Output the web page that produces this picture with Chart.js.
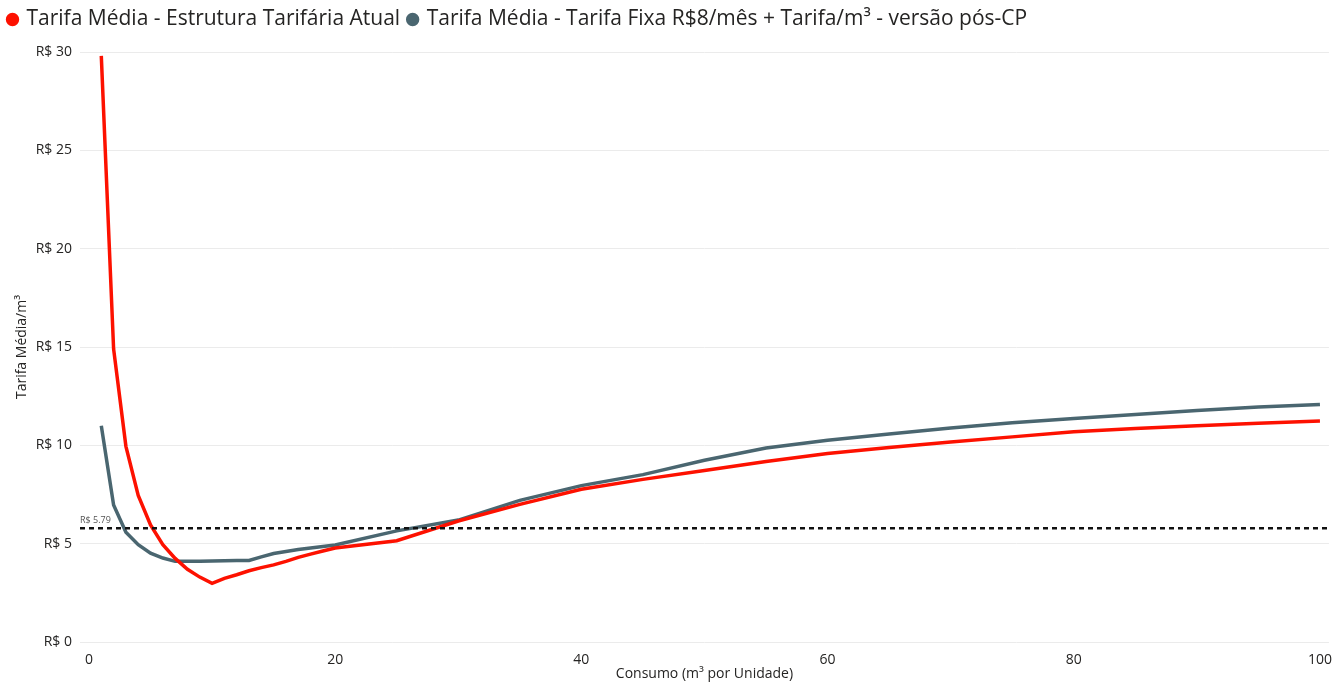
<!DOCTYPE html>
<html>
<head>
<meta charset="utf-8">
<script src="https://cdn.jsdelivr.net/npm/chart.js@4"></script>
<style>
  html, body { margin: 0; padding: 0; background: #fff; }
  #box { width: 1342px; height: 682px; }
</style>
</head>
<body>
<div id="box"><canvas id="grafico"></canvas></div>
<script>
// consumo (m³) e tarifa média
const consumo = [1, 2, 3, 4, 5, 6, 7, 8, 9, 10, 11, 12, 13, 14, 15, 16, 17, 18, 19, 20,
  25, 30, 35, 40, 45, 50, 55, 60, 65, 70, 75, 80, 85, 90, 95, 100];
const tarifaAtual = [29.8, 14.9, 9.95, 7.45, 5.95, 4.95, 4.25, 3.7, 3.3, 2.98, 3.24, 3.42, 3.62, 3.78, 3.92, 4.1, 4.3, 4.47, 4.63, 4.78,
  5.15, 6.15, 7.0, 7.77, 8.27, 8.72, 9.18, 9.58, 9.89, 10.17, 10.43, 10.69, 10.86, 11.0, 11.12, 11.24];
const tarifaFixa = [11.0, 6.97, 5.58, 4.95, 4.52, 4.27, 4.1, 4.1, 4.11, 4.12, 4.13, 4.14, 4.15, 4.33, 4.5, 4.6, 4.7, 4.78, 4.86, 4.93,
  5.65, 6.2, 7.2, 7.95, 8.51, 9.24, 9.86, 10.26, 10.58, 10.88, 11.15, 11.37, 11.57, 11.77, 11.95, 12.08];
const xTicks = [0, 20, 40, 60, 80, 100];
const yTicks = [0, 5, 10, 15, 20, 25, 30];
const referencia = 5.79;

const nomes = [
  'Tarifa Média - Estrutura Tarifária Atual',
  'Tarifa Média - Tarifa Fixa R$8/mês + Tarifa/m³ - versão pós-CP'
];
const cores = ['#FD1100', '#4A6670'];

const texto = '#252423';
const fonte = '"Open Sans", "Noto Sans", sans-serif';

const pontos = (ys) => consumo.map((x, i) => ({ x: x, y: ys[i] }));

// linha tracejada de referência (R$ 5.79)
const linhaReferencia = {
  id: 'linhaReferencia',
  afterDatasetsDraw(chart) {
    const { ctx, chartArea } = chart;
    const y = chart.scales.y.getPixelForValue(referencia);
    ctx.save();
    ctx.strokeStyle = '#111';
    ctx.lineWidth = 2.5;
    ctx.setLineDash([5, 4]);
    ctx.beginPath();
    ctx.moveTo(chartArea.left, y);
    ctx.lineTo(chartArea.right, y);
    ctx.stroke();
    ctx.setLineDash([]);
    ctx.fillStyle = '#555';
    ctx.font = '9px ' + fonte;
    ctx.textBaseline = 'bottom';
    ctx.fillText('R$ ' + referencia.toFixed(2), chartArea.left, y - 3);
    ctx.restore();
  }
};

// legenda ocupa a faixa de cima até a área do gráfico
const alturaLegenda = {
  id: 'alturaLegenda',
  beforeLayout(chart) {
    const legenda = chart.legend;
    if (legenda && !legenda._ajustada) {
      const fit = legenda.fit;
      legenda.fit = function () { fit.call(this); this.height = 52; };
      legenda._ajustada = true;
    }
  }
};

new Chart(document.getElementById('grafico'), {
  type: 'line',
  data: {
    datasets: [
      {
        label: nomes[0],
        data: pontos(tarifaAtual),
        borderColor: cores[0],
        backgroundColor: cores[0],
        borderWidth: 3.5,
        pointRadius: 0,
        tension: 0
      },
      {
        label: nomes[1],
        data: pontos(tarifaFixa),
        borderColor: cores[1],
        backgroundColor: cores[1],
        borderWidth: 3.5,
        pointRadius: 0,
        tension: 0
      }
    ]
  },
  options: {
    responsive: true,
    maintainAspectRatio: false,
    animation: false,
    layout: { padding: { left: 0, right: 7, top: 0, bottom: 0 } },
    plugins: {
      tooltip: { enabled: false },
      legend: {
        position: 'top',
        align: 'start',
        labels: {
          usePointStyle: true,
          pointStyle: 'circle',
          boxWidth: 7,
          boxHeight: 7,
          padding: 9,
          color: texto,
          font: { family: fonte, size: 21 }
        }
      }
    },
    scales: {
      x: {
        type: 'linear',
        min: -0.73,
        max: 100.73,
        afterBuildTicks: (s) => { s.ticks = xTicks.map(v => ({ value: v })); },
        afterFit: (s) => { s.height = 40; },
        grid: { display: false, drawTicks: false },
        border: { display: false },
        ticks: { color: texto, padding: 10, maxRotation: 0, font: { family: fonte, size: 14 } },
        title: {
          display: true,
          text: 'Consumo (m³ por Unidade)',
          color: texto,
          padding: 0,
          font: { family: fonte, size: 14 }
        }
      },
      y: {
        min: 0,
        max: 30,
        afterBuildTicks: (s) => { s.ticks = yTicks.map(v => ({ value: v })); },
        afterFit: (s) => { s.width = 80; },
        grid: { color: '#EBEBEB', drawTicks: false },
        border: { display: false },
        ticks: {
          color: texto,
          padding: 8,
          font: { family: fonte, size: 14 },
          callback: (v) => 'R$ ' + v
        },
        title: {
          display: true,
          text: 'Tarifa Média/m³',
          color: texto,
          padding: { top: 14, bottom: 0 },
          font: { family: fonte, size: 14 }
        }
      }
    }
  },
  plugins: [linhaReferencia, alturaLegenda]
});
</script>
</body>
</html>
